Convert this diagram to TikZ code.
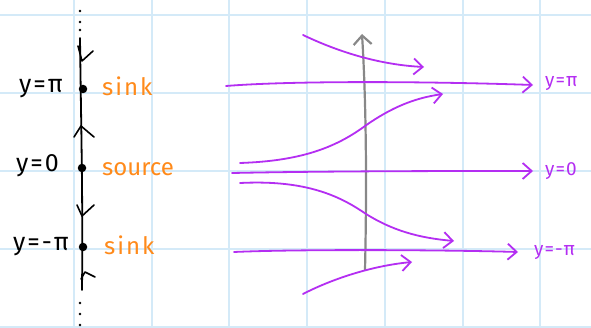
\documentclass[tikz,border=0pt]{standalone}
\usepackage{fontspec}
\setmainfont{Fira Sans}
\usetikzlibrary{arrows.meta}
\definecolor{gridblue}{HTML}{D4EAF8}
\definecolor{pur}{HTML}{B42EF2}
\definecolor{org}{HTML}{FF8A1A}
\definecolor{gry}{HTML}{888888}
\newcommand{\ks}{\kern2pt}
\tikzset{
  gridline/.style={gridblue,line width=1.4pt},
  axis/.style={black,line width=1.8pt,line cap=round},
  chev/.style={black,line width=1.6pt,line cap=round,line join=round},
  dotpt/.style={circle,fill=black,inner sep=0pt,minimum size=8.5pt},
  flow/.style={pur,line width=1.8pt,line cap=round,-{Straight Barb[length=9pt,width=16pt,line width=1.8pt]}},
  lbl/.style={font=\fontsize{25}{28}\selectfont,inner sep=0pt},
  olbl/.style={font=\fontsize{24}{27}\selectfont,text=org,inner sep=0pt,anchor=west},
  plbl/.style={font=\fontsize{19}{21}\selectfont,text=pur,inner sep=0pt,anchor=west},
}
\begin{document}
\begin{tikzpicture}[x=1pt,y=-1pt]
\useasboundingbox (0,0) rectangle (591,328);
\fill[white] (0,0) rectangle (591,328);
% grid
\foreach \gx in {74,152,229,307,385,463,540} \draw[gridline] (\gx,0) -- (\gx,328);
\foreach \gy in {15,93,171,249,327} \draw[gridline] (0,\gy) -- (591,\gy);
% phase line
\coordinate (top) at (80,38);
\coordinate (bot) at (82,290);
\draw[axis] (top) .. controls (81,120) and (83,200) .. (bot);
\foreach \dy in {11,22,30,303,314,325} \fill (80,\dy) circle (1.4pt);
\node[dotpt] (pi) at (83,89) {};
\node[dotpt] (zero) at (82,168) {};
\node[dotpt] (mpi) at (83,247) {};
\draw[chev] (78,46) -- (82,61) -- (93,51);
\draw[chev] (74,137) -- (81,126) -- (94,137);
\draw[chev] (77,205) -- (82,216) -- (94,205);
\draw[chev] (81,279) -- (85,272) -- (95,277);
\node[lbl,anchor=east] (lpi) at (63,89) {y\ks=\ks π};
\node[lbl,anchor=east] (lzero) at (59,166) {y\ks=\ks 0};
\node[lbl,anchor=east] (lmpi) at (69,247) {y\ks=\ks-\ks π};
\node[olbl] (spi) at (102,86) {s\ks i\ks n\ks k};
\node[olbl] (szero) at (102,169) {source};
\node[olbl] (smpi) at (104,245) {s\ks i\ks n\ks k};
% gray arrow
\coordinate (gb) at (365,270);
\coordinate (gt) at (362,34);
\draw[gry,line width=2.2pt,line cap=round,-{Straight Barb[length=9pt,width=18pt,line width=2.2pt]}] (gb) .. controls (367,180) and (366,100) .. (gt);
% purple flow lines
\draw[flow] (303,35) .. controls (345,55) and (385,65) .. (424,67);
\draw[flow] (226,86) .. controls (300,80) and (450,82) .. (533,85);
\draw[flow] (240,163) .. controls (300,161) and (335,148) .. (365,126) .. controls (392,107) and (415,98) .. (443,94);
\draw[flow] (232,173) .. controls (330,171) and (450,171) .. (533,171);
\draw[flow] (240,183) .. controls (300,180) and (335,193) .. (363,212) .. controls (392,231) and (420,238) .. (454,241);
\draw[flow] (234,252) .. controls (300,249) and (450,250) .. (518,252);
\draw[flow] (303,294) .. controls (330,280) and (370,266) .. (412,262);
\node[plbl] (rpi) at (545,84) {y\kern1pt=\kern1pt π};
\node[plbl] (rzero) at (545,171) {y\kern1pt=\kern1pt 0};
\node[plbl] (rmpi) at (534,253) {y\kern1pt=\kern1pt-\kern1pt π};
\end{tikzpicture}
\end{document}
